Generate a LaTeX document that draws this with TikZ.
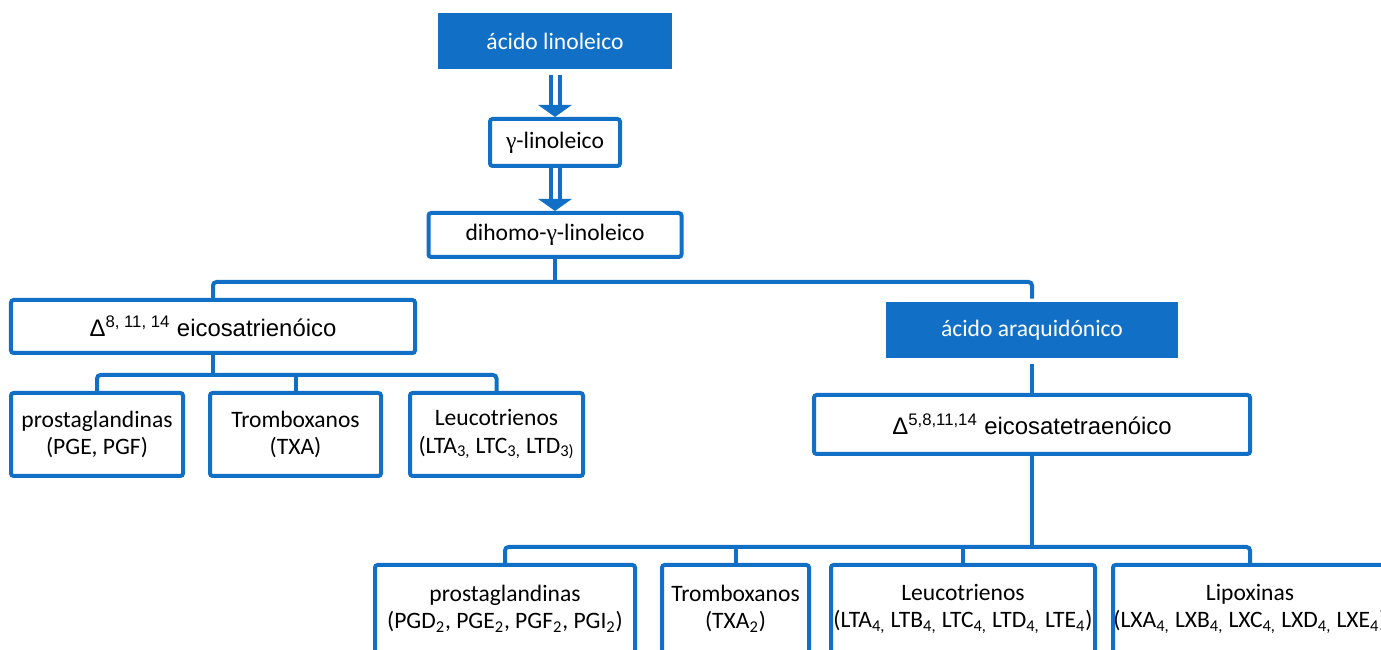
\documentclass[tikz,border=0pt]{standalone}
\usepackage{fontspec}
\usepackage{tikz}
\usetikzlibrary{arrows.meta}
\setmainfont{Carlito}
\newfontfamily\arialf{Liberation Sans}
\newfontfamily\grk{Liberation Serif}
\definecolor{bluebox}{RGB}{17,112,198}
\newcommand{\boxfont}{\fontsize{13.4}{15.5}\selectfont}
\newcommand{\deltafont}{\arialf\fontsize{13.6}{16}\selectfont}

\begin{document}
\begin{tikzpicture}[
    box/.style={draw=bluebox, line width=0.08cm, rounded corners=1.5pt, fill=white, align=center, inner sep=0pt, font=\boxfont},
    filled/.style={fill=bluebox, text=white, inner sep=0pt, font=\boxfont},
    link/.style={draw=bluebox, line width=0.08cm, rounded corners=2pt},
    dblarrow/.style={draw=bluebox, line width=0.08cm, double=white, double distance=0.1cm, -{Triangle[length=0.24cm, width=0.66cm]}}
  ]
        \useasboundingbox (0,0) rectangle (27.62,-13);

        % linoleic chain
        \node[filled, minimum width=4.68cm, minimum height=1.12cm] (lin) at (11.10, -0.82) {ácido linoleico};
        \node[box, minimum width=2.60cm, minimum height=0.94cm] (gam) at (11.10, -2.85) {{\grk γ}-linoleico};
        \node[box, minimum width=5.06cm, minimum height=0.88cm] (dih) at (11.10, -4.70) {dihomo-{\grk γ}-linoleico};
        \draw[dblarrow, shorten <=0.12cm] (lin) -- (gam);
        \draw[dblarrow] (gam) -- (dih);

        % split into the two branches
        \node[box, minimum width=8.08cm, minimum height=1.06cm, font=\deltafont] (d8) at (4.26, -6.53) {Δ\textsuperscript{8, 11, 14} eicosatrienóico};
        \node[filled, minimum width=5.84cm, minimum height=1.12cm] (ara) at (20.64, -6.60) {ácido araquidónico};
        \coordinate (j1) at (11.10, -5.64);
        \draw[link] (dih) -- (j1);
        \draw[link] (d8.north) |- (j1) -| ([yshift=0.06cm]ara.north);

        % series 1 products
        \node[box, minimum width=3.44cm, minimum height=1.66cm] (pg3) at (1.94, -8.69) {prostaglandinas\\(PGE, PGF)};
        \node[box, minimum width=3.42cm, minimum height=1.66cm] (tx3) at (5.91, -8.69) {Tromboxanos\\(TXA)};
        \node[box, minimum width=3.46cm, minimum height=1.66cm] (lt3) at (9.93, -8.69) {Leucotrienos\\(LTA\textsubscript{3,} LTC\textsubscript{3,} LTD\textsubscript{3)}};
        \coordinate (j2) at (4.26, -7.50);
        \draw[link] (d8) -- (j2);
        \draw[link] (pg3.north) |- (j2) -| (lt3.north);
        \draw[link] (tx3.north) -- (tx3.north |- j2);

        % arachidonic branch
        \node[box, minimum width=8.72cm, minimum height=1.18cm, font=\deltafont] (d5) at (20.64, -8.49) {Δ\textsuperscript{5,8,11,14} eicosatetraenóico};
        \draw[link, shorten <=0.12cm] (ara) -- (d5);

        % series 2 products
        \node[box, minimum width=5.20cm, minimum height=1.76cm] (pg4) at (10.10, -12.18) {prostaglandinas\\(PGD\textsubscript{2}, PGE\textsubscript{2}, PGF\textsubscript{2}, PGI\textsubscript{2})};
        \node[box, minimum width=2.94cm, minimum height=1.76cm] (tx4) at (14.71, -12.18) {Tromboxanos\\(TXA\textsubscript{2})};
        \node[box, minimum width=5.28cm, minimum height=1.76cm] (lt4) at (19.26, -12.18) {Leucotrienos\\(LTA\textsubscript{4,} LTB\textsubscript{4,} LTC\textsubscript{4,} LTD\textsubscript{4,} LTE\textsubscript{4})};
        \node[box, minimum width=5.48cm, minimum height=1.76cm] (lx4) at (25.00, -12.18) {Lipoxinas\\(LXA\textsubscript{4,} LXB\textsubscript{4,} LXC\textsubscript{4,} LXD\textsubscript{4,} LXE\textsubscript{4})};
        \coordinate (j3) at (20.64, -10.94);
        \draw[link] (d5) -- (j3);
        \draw[link] (pg4.north) |- (j3) -| (lx4.north);
        \draw[link] (tx4.north) -- (tx4.north |- j3);
        \draw[link] (lt4.north) -- (lt4.north |- j3);
    \end{tikzpicture}
\end{document}
